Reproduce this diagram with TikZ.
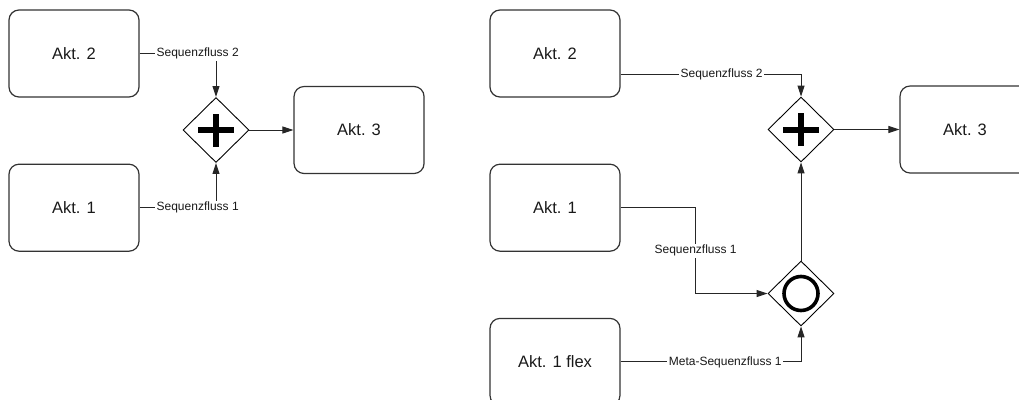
\documentclass[tikz,border=0pt]{standalone}
\usepackage{fontspec}
\setmainfont{Liberation Sans}
\usetikzlibrary{positioning,shapes.geometric,arrows.meta}

\begin{document}
\begin{tikzpicture}[x=1pt, y=1pt, node distance=66pt,
  akt/.style={draw=black!80, line width=1.2pt, rounded corners=10pt, minimum width=130pt, minimum height=87pt, inner sep=0pt, font=\fontsize{16.5}{20}\selectfont, text=black!90},
  gate/.style={draw=black, line width=0.9pt, diamond, minimum width=66pt, minimum height=65pt, inner sep=0pt, fill=white},
  seq/.style={draw=black!85, line width=1pt, -{Triangle[length=11pt,width=7pt]}},
  lbl/.style={fill=white, inner sep=1.5pt, font=\fontsize{12}{14}\selectfont, text=black!90}]
\useasboundingbox (0,0) rectangle (1019,-399);

% parallel join
\node[akt] (aktL2) at (74,-53.5) {Akt. 2};
\node[akt,below=of aktL2] (aktL1) {Akt. 1};
\node[gate] (gateL) at (216,-130) {};
\draw[line width=6pt] ([xshift=-18pt]gateL.center) -- ([xshift=18pt]gateL.center);
\draw[line width=6pt] ([yshift=-16.5pt]gateL.center) -- ([yshift=16.5pt]gateL.center);
\node[akt,right=44pt of gateL] (aktL3) {Akt. 3};
\draw[seq] (aktL2.east) -| node[lbl,pos=0.38] {Sequenzfluss 2} (gateL.north);
\draw[seq] (aktL1.east) -| node[lbl,pos=0.38] {Sequenzfluss 1} (gateL.south);
\draw[seq] (gateL.east) -- (aktL3.west);

% parallel join with flexible branch
\node[akt] (aktR2) at (555,-53.5) {Akt. 2};
\node[akt,below=of aktR2] (aktR1) {Akt. 1};
\node[akt,below=of aktR1] (aktR1f) {Akt. 1 flex};
\node[gate] (gateR) at (801,-129.5) {};
\draw[line width=6pt] ([xshift=-18pt]gateR.center) -- ([xshift=18pt]gateR.center);
\draw[line width=6pt] ([yshift=-16.5pt]gateR.center) -- ([yshift=16.5pt]gateR.center);
\node[gate] (gateO) at (801,-293.5) {};
\draw[line width=3.6pt] (gateO.center) circle (17pt);
\node[akt,right=65pt of gateR] (aktR3) {Akt. 3};
\draw[seq] ([yshift=-21pt]aktR2.east) -| node[lbl,pos=0.28] {Sequenzfluss 2} (gateR.north);
\draw[seq] (aktR1.east) -- ++(75pt,0) |- node[lbl,pos=0.25] {Sequenzfluss 1} (gateO.west);
\draw[seq] (aktR1f.east) -| node[lbl,pos=0.29] {Meta-Sequenzfluss 1} (gateO.south);
\draw[seq] (gateO.north) -- (gateR.south);
\draw[seq] (gateR.east) -- (aktR3.west);
\end{tikzpicture}
\end{document}
